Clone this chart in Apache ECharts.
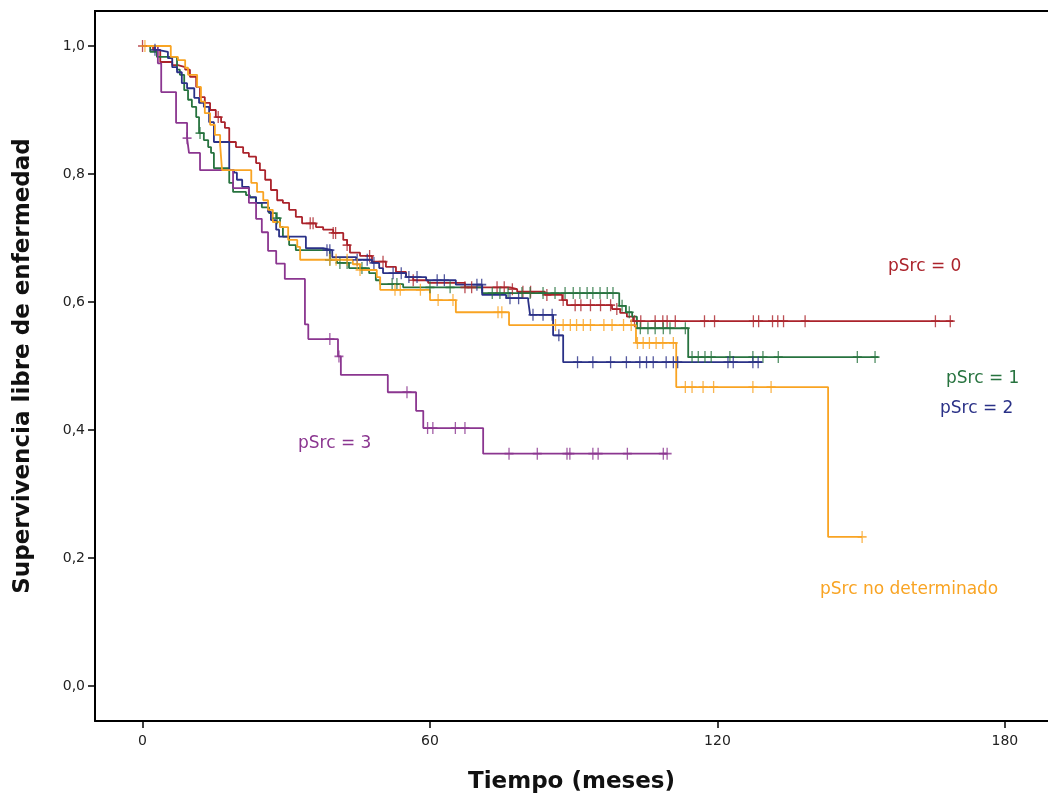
<!DOCTYPE html>
<html>
<head>
<meta charset="utf-8">
<script src="https://cdn.jsdelivr.net/npm/echarts@6/dist/echarts.min.js"></script>
<style>
html,body{margin:0;padding:0;background:#fff;}
#chart{width:1048px;height:802px;}
</style>
</head>
<body>
<div id="chart"></div>
<script>
// ---------- DATA (months, survival) ----------
const xTicks = [0, 60, 120, 180];
const yTicks = [0, 0.2, 0.4, 0.6, 0.8, 1.0];

// pSrc = 0
const p0Times = [0, 2.2, 3.7, 6.2, 7.4, 8.9, 9.9, 11.2, 12.0, 13.0, 14.1, 15.3, 16.4, 17.2, 18.1, 19.5, 21.0, 22.2, 23.7, 24.5, 25.6, 26.8, 28.1, 29.3, 30.6, 32.0, 33.3, 36.2, 37.7, 39.8, 41.9, 42.7, 43.3, 45.4, 47.9, 50.8, 52.9, 55.0, 56.5, 59.6, 67.3, 76.7, 78.2, 84.0, 87.6, 88.6, 98.0, 99.7, 101.1, 102.4, 169.2];
const p0Surv  = [1.0, 0.994, 0.975, 0.970, 0.967, 0.963, 0.952, 0.936, 0.920, 0.911, 0.900, 0.889, 0.881, 0.872, 0.850, 0.842, 0.833, 0.827, 0.817, 0.806, 0.791, 0.775, 0.759, 0.755, 0.744, 0.733, 0.723, 0.717, 0.713, 0.708, 0.697, 0.689, 0.677, 0.672, 0.663, 0.655, 0.647, 0.639, 0.634, 0.630, 0.623, 0.620, 0.616, 0.611, 0.603, 0.595, 0.589, 0.583, 0.577, 0.570, 0.570];
const p0Cens  = [0, 15.8, 35.0, 35.6, 39.8, 40.3, 42.7, 47.4, 50.2, 56.5, 67.3, 68.7, 74.0, 75.5, 77.2, 79.4, 81.0, 84.4, 87.8, 90.3, 91.5, 93.5, 95.6, 97.7, 99.0, 102.7, 104.0, 107.0, 108.6, 109.5, 111.2, 117.3, 119.4, 127.5, 128.6, 131.5, 132.6, 133.8, 138.3, 165.5, 168.6];

// pSrc = 1
const p1Times = [0, 1.6, 3.0, 7.2, 7.8, 8.7, 9.5, 10.3, 11.2, 11.8, 12.8, 13.7, 14.3, 14.9, 18.1, 18.9, 21.6, 22.4, 23.7, 24.9, 26.4, 27.9, 28.7, 29.3, 30.6, 32.0, 39.1, 40.6, 43.1, 47.3, 48.7, 49.6, 54.4, 70.9, 99.5, 100.9, 102.2, 103.2, 113.9, 153.6];
const p1Surv  = [1.0, 0.991, 0.983, 0.963, 0.955, 0.931, 0.916, 0.905, 0.889, 0.864, 0.853, 0.842, 0.833, 0.809, 0.786, 0.772, 0.767, 0.763, 0.755, 0.748, 0.739, 0.731, 0.717, 0.702, 0.689, 0.681, 0.666, 0.661, 0.653, 0.645, 0.634, 0.628, 0.623, 0.614, 0.594, 0.584, 0.577, 0.559, 0.514, 0.514];
const p1Cens  = [12.0, 28.1, 39.1, 41.2, 42.7, 45.8, 52.1, 53.1, 60.0, 64.2, 73.0, 74.6, 76.3, 79.2, 80.9, 83.6, 86.1, 88.2, 89.9, 91.3, 92.8, 94.0, 95.5, 97.0, 98.2, 100.1, 101.6, 103.9, 105.5, 107.0, 108.7, 110.1, 113.3, 114.7, 116.0, 117.4, 118.7, 122.6, 127.4, 129.5, 132.7, 149.2, 152.9];

// pSrc = 2
const p2Times = [0, 2.6, 3.2, 5.3, 6.2, 7.2, 8.2, 9.3, 10.8, 11.8, 12.8, 13.9, 14.9, 18.1, 19.1, 19.7, 20.8, 22.2, 23.7, 26.2, 26.8, 27.9, 28.5, 34.1, 37.7, 39.6, 44.6, 47.9, 49.4, 50.2, 55.0, 59.2, 65.4, 70.9, 75.9, 80.5, 80.9, 85.7, 87.8, 129.3];
const p2Surv  = [1.0, 0.994, 0.991, 0.981, 0.967, 0.959, 0.942, 0.934, 0.919, 0.911, 0.905, 0.881, 0.850, 0.806, 0.802, 0.791, 0.780, 0.764, 0.755, 0.741, 0.728, 0.713, 0.702, 0.684, 0.681, 0.670, 0.666, 0.661, 0.653, 0.645, 0.639, 0.634, 0.627, 0.611, 0.606, 0.602, 0.580, 0.548, 0.506, 0.506];
const p2Cens  = [2.6, 38.5, 39.1, 44.8, 46.9, 48.3, 52.3, 54.0, 55.6, 57.3, 61.5, 63.0, 69.8, 70.8, 76.7, 78.5, 81.5, 83.6, 85.5, 86.9, 90.8, 94.0, 97.7, 101.0, 103.8, 105.2, 106.6, 109.3, 110.8, 111.7, 122.2, 123.3, 127.4, 128.5];

// pSrc = 3
const p3Times = [0, 3.2, 3.9, 7.0, 9.3, 9.7, 12.0, 18.9, 22.2, 23.7, 24.9, 26.2, 27.9, 29.7, 33.9, 34.6, 40.8, 41.4, 51.2, 57.1, 58.6, 71.1, 109.5];
const p3Surv  = [1.0, 0.973, 0.928, 0.880, 0.856, 0.833, 0.806, 0.778, 0.755, 0.730, 0.709, 0.680, 0.660, 0.636, 0.565, 0.542, 0.515, 0.486, 0.459, 0.430, 0.403, 0.363, 0.363];
const p3Cens  = [9.3, 39.1, 41.0, 55.2, 59.5, 60.6, 65.3, 67.3, 76.5, 82.4, 88.6, 89.2, 94.0, 95.1, 101.2, 108.7, 109.5];

// pSrc no determinado
const pndTimes = [0, 5.9, 7.4, 8.9, 9.5, 11.4, 12.2, 13.0, 14.1, 15.1, 16.2, 16.6, 22.7, 23.9, 25.2, 26.2, 27.2, 28.7, 30.4, 32.3, 32.9, 43.9, 45.4, 48.9, 49.6, 60.0, 65.4, 76.5, 103.0, 111.4, 143.1, 150.2];
const pndSurv  = [1.0, 0.983, 0.978, 0.966, 0.955, 0.936, 0.913, 0.895, 0.877, 0.861, 0.845, 0.806, 0.786, 0.772, 0.759, 0.744, 0.725, 0.717, 0.697, 0.686, 0.666, 0.659, 0.650, 0.639, 0.619, 0.603, 0.584, 0.564, 0.536, 0.467, 0.233, 0.233];
const pndCens  = [0.5, 39.1, 40.4, 42.7, 44.8, 45.4, 52.7, 53.8, 58.0, 61.7, 64.8, 74.2, 75.0, 86.2, 87.8, 89.3, 90.6, 92.0, 93.5, 96.3, 98.0, 100.4, 102.0, 103.3, 104.5, 105.8, 107.2, 108.6, 110.8, 113.3, 114.7, 117.0, 119.2, 127.4, 131.2, 150.2];

const groupNames = ['pSrc = 0', 'pSrc = 1', 'pSrc = 2', 'pSrc = 3', 'pSrc no determinado'];
// ---------------------------------------------

const colors = ['#ab232b', '#27733f', '#2a3187', '#8b3690', '#f9a423'];
const groups = [
  [p0Times, p0Surv, p0Cens],
  [p1Times, p1Surv, p1Cens],
  [p2Times, p2Surv, p2Cens],
  [p3Times, p3Surv, p3Cens],
  [pndTimes, pndSurv, pndCens]
];

function survAt(times, surv, t) {
  let s = surv[0];
  for (let i = 0; i < times.length; i++) { if (times[i] <= t) s = surv[i]; }
  return s;
}

const plus = 'path://M4,0L4,10M0,5L8,5';
const series = [];
groups.forEach((g, i) => {
  const [times, surv, cens] = g;
  series.push({
    name: groupNames[i], type: 'line', step: 'end',
    data: times.map((t, k) => [t, surv[k]]),
    showSymbol: false, clip: false, z: 2,
    lineStyle: { color: colors[i], width: 1.8 },
    itemStyle: { color: colors[i] }
  });
  series.push({
    name: groupNames[i] + ' censurado', type: 'scatter',
    data: cens.map(t => [t, survAt(times, surv, t)]),
    symbol: plus, symbolSize: [9, 12], clip: false, z: 3,
    itemStyle: { color: 'transparent', borderColor: colors[i], borderWidth: 1.5 }
  });
});

const font = 'DejaVu Sans';
const labelFont = '17px "DejaVu Sans"';
const chart = echarts.init(document.getElementById('chart'), null, { renderer: 'canvas' });
chart.setOption({
  backgroundColor: '#fff',
  animation: false,
  grid: { left: 95, right: 0, top: 11, bottom: 81, containLabel: false },
  xAxis: {
    type: 'value', min: -9.92, max: 189.0,
    axisLine: { show: true, onZero: false, lineStyle: { color: '#000', width: 2 } },
    axisTick: { show: true, length: 7, customValues: xTicks, lineStyle: { color: '#000', width: 1.5 } },
    axisLabel: { color: '#222', fontFamily: font, fontSize: 14, margin: 13, customValues: xTicks },
    splitLine: { show: false },
    name: 'Tiempo (meses)', nameLocation: 'middle', nameGap: 50,
    nameTextStyle: { color: '#111', fontFamily: font, fontWeight: 'bold', fontSize: 23 }
  },
  yAxis: {
    type: 'value', min: -0.0547, max: 1.0547,
    axisLine: { show: true, onZero: false, lineStyle: { color: '#000', width: 2 } },
    axisTick: { show: true, length: 7, customValues: yTicks, lineStyle: { color: '#000', width: 1.5 } },
    axisLabel: { color: '#222', fontFamily: font, fontSize: 14, margin: 10, customValues: yTicks,
      formatter: v => v.toFixed(1).replace('.', ',') },
    splitLine: { show: false },
    name: 'Supervivencia libre de enfermedad', nameLocation: 'middle', nameGap: 60,
    nameTextStyle: { color: '#111', fontFamily: font, fontWeight: 'bold', fontSize: 23 }
  },
  graphic: [
    { type: 'line', shape: { x1: 94, y1: 11, x2: 1048, y2: 11 }, silent: true, z: 10,
      style: { stroke: '#000', lineWidth: 2 } },
    { type: 'text', left: 888, top: 258, style: { text: groupNames[0], fill: colors[0], font: labelFont } },
    { type: 'text', left: 946, top: 370, style: { text: groupNames[1], fill: colors[1], font: labelFont } },
    { type: 'text', left: 940, top: 400, style: { text: groupNames[2], fill: colors[2], font: labelFont } },
    { type: 'text', left: 298, top: 435, style: { text: groupNames[3], fill: colors[3], font: labelFont } },
    { type: 'text', left: 820, top: 581, style: { text: groupNames[4], fill: colors[4], font: labelFont } }
  ],
  series: series
});
</script>
</body>
</html>
